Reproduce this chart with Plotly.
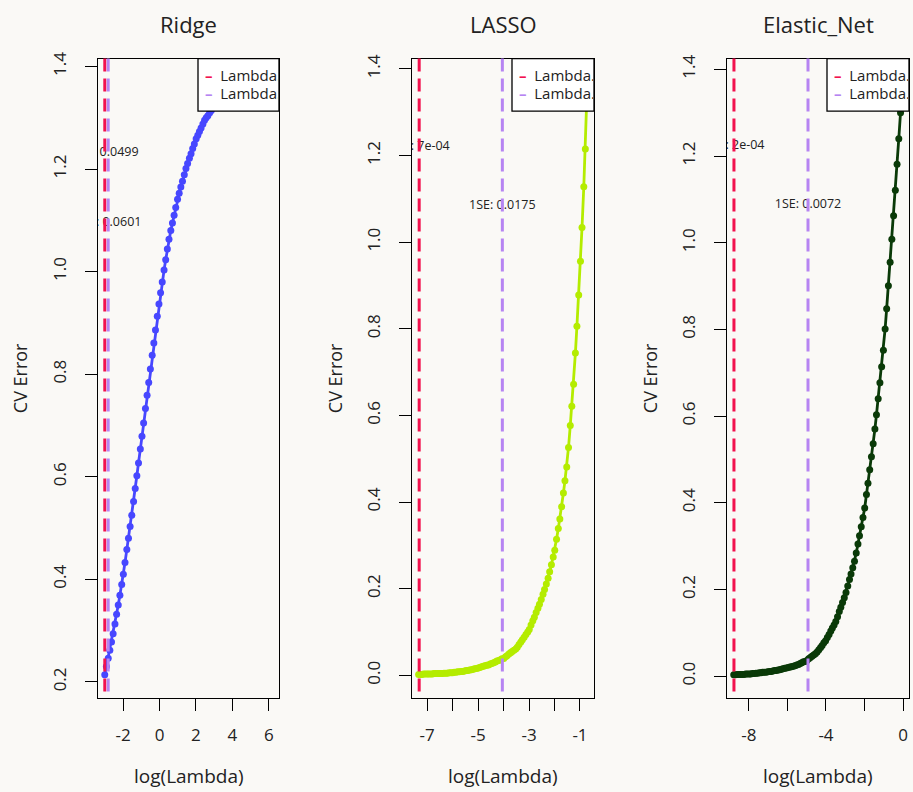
import math
import plotly.graph_objects as go

# ---------------- data ----------------
models = ["Ridge", "LASSO", "Elastic_Net"]

ridge_loglambda = [-3.00, -2.91, -2.81, -2.72, -2.63, -2.54, -2.44, -2.35, -2.26, -2.17,
                   -2.07, -1.98, -1.89, -1.79, -1.70, -1.61, -1.52, -1.42, -1.33, -1.24,
                   -1.15, -1.05, -0.96, -0.87, -0.77, -0.68, -0.59, -0.50, -0.40, -0.31,
                   -0.22, -0.12, -0.03, 0.06, 0.15, 0.25, 0.34, 0.43, 0.52, 0.62,
                   0.71, 0.80, 0.89, 0.99, 1.08, 1.17, 1.26, 1.36, 1.45, 1.54,
                   1.64, 1.73, 1.82, 1.91, 2.01, 2.10, 2.19, 2.28, 2.38, 2.47,
                   2.56, 2.65, 2.75, 2.84, 2.93, 3.03, 3.12, 3.21, 3.30, 3.40,
                   3.49, 3.58, 3.67, 3.77, 3.86, 3.95, 4.04, 4.14, 4.23, 4.32,
                   4.42, 4.51, 4.60, 4.69, 4.79, 4.88, 4.97, 5.06, 5.16, 5.25,
                   5.34, 5.43, 5.53, 5.62, 5.71, 5.80, 5.90, 5.99, 6.08, 6.18]
ridge_cv = [0.214, 0.230, 0.246, 0.262, 0.278, 0.294, 0.313, 0.332, 0.350, 0.369,
            0.390, 0.410, 0.433, 0.458, 0.480, 0.503, 0.525, 0.552, 0.577, 0.602,
            0.627, 0.654, 0.679, 0.705, 0.733, 0.759, 0.784, 0.810, 0.837, 0.861,
            0.886, 0.913, 0.937, 0.959, 0.980, 1.003, 1.023, 1.044, 1.063, 1.080,
            1.095, 1.110, 1.125, 1.141, 1.153, 1.165, 1.176, 1.189, 1.201, 1.211,
            1.221, 1.230, 1.240, 1.249, 1.259, 1.266, 1.273, 1.280, 1.288, 1.295,
            1.300, 1.304, 1.310, 1.314, 1.319, 1.323, 1.326, 1.330, 1.333, 1.337,
            1.340, 1.342, 1.344, 1.346, 1.348, 1.350, 1.352, 1.353, 1.354, 1.356,
            1.357, 1.358, 1.359, 1.360, 1.361, 1.362, 1.363, 1.363, 1.364, 1.364,
            1.365, 1.365, 1.366, 1.366, 1.367, 1.367, 1.368, 1.368, 1.369, 1.369]

lasso_loglambda = [-7.33, -7.26, -7.20, -7.13, -7.06, -6.99, -6.93, -6.86, -6.79, -6.73,
                   -6.66, -6.59, -6.53, -6.46, -6.40, -6.33, -6.26, -6.20, -6.13, -6.06,
                   -6.00, -5.93, -5.86, -5.80, -5.73, -5.66, -5.60, -5.53, -5.46, -5.40,
                   -5.33, -5.26, -5.19, -5.13, -5.06, -4.99, -4.93, -4.86, -4.79, -4.73,
                   -4.66, -4.59, -4.52, -4.46, -4.39, -4.32, -4.26, -4.19, -4.12, -4.06,
                   -3.99, -3.92, -3.86, -3.79, -3.72, -3.66, -3.59, -3.52, -3.46, -3.39,
                   -3.32, -3.26, -3.19, -3.12, -3.05, -2.99, -2.92, -2.85, -2.79, -2.72,
                   -2.65, -2.59, -2.52, -2.45, -2.39, -2.32, -2.25, -2.19, -2.12, -2.05,
                   -1.99, -1.92, -1.85, -1.79, -1.72, -1.65, -1.59, -1.52, -1.45, -1.38,
                   -1.32, -1.25, -1.18, -1.12, -1.05, -0.98, -0.92, -0.85, -0.79, -0.72]
lasso_cv = [0.002, 0.002, 0.002, 0.003, 0.003, 0.003, 0.003, 0.003, 0.003, 0.004,
            0.004, 0.004, 0.004, 0.004, 0.004, 0.005, 0.005, 0.005, 0.006, 0.006,
            0.006, 0.007, 0.007, 0.008, 0.008, 0.009, 0.009, 0.010, 0.011, 0.011,
            0.012, 0.013, 0.014, 0.015, 0.016, 0.017, 0.018, 0.020, 0.021, 0.022,
            0.023, 0.024, 0.026, 0.027, 0.029, 0.031, 0.033, 0.034, 0.036, 0.038,
            0.039, 0.043, 0.045, 0.049, 0.052, 0.055, 0.058, 0.061, 0.065, 0.071,
            0.077, 0.082, 0.088, 0.094, 0.100, 0.106, 0.116, 0.126, 0.134, 0.145,
            0.155, 0.164, 0.175, 0.187, 0.198, 0.211, 0.224, 0.239, 0.255, 0.273,
            0.289, 0.314, 0.339, 0.361, 0.389, 0.421, 0.449, 0.481, 0.526, 0.577,
            0.621, 0.672, 0.744, 0.806, 0.878, 0.956, 1.034, 1.128, 1.215, 1.355]

enet_loglambda = [-8.79, -8.70, -8.61, -8.52, -8.44, -8.35, -8.26, -8.17, -8.08, -7.99,
                  -7.91, -7.82, -7.73, -7.64, -7.55, -7.46, -7.38, -7.29, -7.20, -7.11,
                  -7.02, -6.93, -6.85, -6.76, -6.67, -6.58, -6.49, -6.40, -6.32, -6.23,
                  -6.14, -6.05, -5.96, -5.87, -5.79, -5.70, -5.61, -5.52, -5.43, -5.34,
                  -5.26, -5.17, -5.08, -4.99, -4.90, -4.81, -4.73, -4.64, -4.55, -4.46,
                  -4.37, -4.28, -4.20, -4.11, -4.02, -3.93, -3.84, -3.75, -3.67, -3.58,
                  -3.49, -3.40, -3.31, -3.23, -3.14, -3.05, -2.96, -2.87, -2.78, -2.70,
                  -2.61, -2.52, -2.43, -2.34, -2.26, -2.17, -2.08, -1.99, -1.90, -1.82,
                  -1.73, -1.64, -1.55, -1.46, -1.38, -1.29, -1.20, -1.11, -1.02, -0.93,
                  -0.85, -0.76, -0.67, -0.58, -0.49, -0.40, -0.31, -0.22, -0.13, -0.04]
enet_cv = [0.003, 0.003, 0.004, 0.004, 0.004, 0.004, 0.004, 0.005, 0.005, 0.005,
           0.005, 0.006, 0.006, 0.007, 0.007, 0.008, 0.008, 0.009, 0.009, 0.009,
           0.010, 0.011, 0.011, 0.012, 0.013, 0.013, 0.014, 0.015, 0.016, 0.017,
           0.018, 0.019, 0.020, 0.021, 0.022, 0.023, 0.024, 0.026, 0.027, 0.029,
           0.031, 0.033, 0.034, 0.036, 0.040, 0.043, 0.046, 0.049, 0.052, 0.056,
           0.061, 0.066, 0.071, 0.077, 0.082, 0.089, 0.096, 0.104, 0.111, 0.118,
           0.126, 0.137, 0.149, 0.159, 0.170, 0.181, 0.193, 0.208, 0.223, 0.236,
           0.250, 0.265, 0.284, 0.305, 0.324, 0.345, 0.366, 0.388, 0.419, 0.445,
           0.476, 0.506, 0.536, 0.570, 0.603, 0.640, 0.677, 0.714, 0.752, 0.801,
           0.848, 0.901, 0.955, 1.008, 1.062, 1.121, 1.181, 1.240, 1.300, 1.360]

lambda_min = [0.0499, 0.00067, 0.000154]
lambda_1se = [0.0601, 0.0175, 0.0072]
min_labels = ["Min: 0.0499", "Min: 7e-04", "Min: 2e-04"]
se_labels = ["1SE: 0.0601", "1SE: 0.0175", "1SE: 0.0072"]
legend_labels = ["Lambda.min", "Lambda.1se"]

x_tickvals = [[-2, 0, 2, 4, 6], [-7, -6, -5, -4, -3, -2, -1], [-8, -6, -4, -2, 0]]
x_ticktext = [["-2", "0", "2", "4", "6"], ["-7", "", "-5", "", "-3", "", "-1"], ["-8", "", "-4", "", "0"]]
y_tickvals = [[0.2, 0.4, 0.6, 0.8, 1.0, 1.2, 1.4],
              [0.0, 0.2, 0.4, 0.6, 0.8, 1.0, 1.2, 1.4],
              [0.0, 0.2, 0.4, 0.6, 0.8, 1.0, 1.2, 1.4]]

# ---------------- style / layout ----------------
W, H = 913, 792
BG = "#FAF9F6"
FONT = "Open Sans, Lato, sans-serif"
TXT = "#222222"
curve_colors = ["#4747FF", "#B4EC00", "#0A3A08"]
RED = "#F2124E"
PURPLE = "#B684F2"

box_px = [(98, 279), (412, 594), (727, 909)]   # left/right pixel edges of each panel
top_px, bottom_px = 52, 697
legend_left_px = [198, 512, 827]
legend_bottom_px = 105
x_ranges = [[-3.37, 6.55], [-7.59, -0.45], [-9.14, 0.31]]
y_ranges = [[0.169, 1.4155], [-0.052, 1.424], [-0.050, 1.425]]
ylab_px = [20, 335, 650]

series = [(ridge_loglambda, ridge_cv), (lasso_loglambda, lasso_cv), (enet_loglambda, enet_cv)]

fig = go.Figure()
ydom = [1 - bottom_px / H, 1 - top_px / H]

for i, name in enumerate(models):
    ax = "" if i == 0 else str(i + 1)
    xa, ya = "x" + ax, "y" + ax
    xs, ys = series[i]
    fig.add_trace(go.Scatter(
        x=xs, y=ys, mode="lines+markers", xaxis=xa, yaxis=ya,
        line=dict(color=curve_colors[i], width=2.8),
        marker=dict(color=curve_colors[i], size=7),
        showlegend=False, cliponaxis=True, hoverinfo="skip"))

    cvmax = max(ys)
    lmin, l1se = math.log(lambda_min[i]), math.log(lambda_1se[i])
    for xv, col in ((lmin, RED), (l1se, PURPLE)):
        fig.add_shape(type="line", xref=xa, yref=ya + " domain", x0=xv, x1=xv, y0=1, y1=0,
                      line=dict(color=col, width=3, dash="13px,7px"), layer="above")
    fig.add_trace(go.Scatter(
        x=[lmin, l1se], y=[cvmax * 0.9, cvmax * 0.8], mode="text",
        text=[min_labels[i], se_labels[i]], textposition="middle center",
        textfont=dict(family=FONT, size=12.5, color=TXT),
        xaxis=xa, yaxis=ya, showlegend=False, cliponaxis=True, hoverinfo="skip"))

    l, r = box_px[i]
    axis_common = dict(showline=True, mirror=True, linecolor="black", linewidth=1.3,
                       ticks="outside", ticklen=12, tickwidth=1.3, tickcolor="black",
                       showgrid=False, zeroline=False,
                       tickfont=dict(family=FONT, size=17, color=TXT))
    fig.update_layout(**{
        ("xaxis" + ax): dict(domain=[l / W, r / W], range=x_ranges[i], anchor=ya,
                             tickvals=x_tickvals[i], ticktext=x_ticktext[i],
                             ticklabelstandoff=10, **axis_common),
        ("yaxis" + ax): dict(domain=ydom, range=y_ranges[i], anchor=xa,
                             tickvals=y_tickvals[i], tickformat=".1f", tickangle=-90,
                             ticklabelstandoff=12, **axis_common),
    })

    cx = (l + r) / 2 / W
    fig.add_annotation(text=name, x=cx, y=1 - 17 / H, xref="paper", yref="paper",
                       showarrow=False, font=dict(family=FONT, size=22, color=TXT),
                       xanchor="center", yanchor="middle")
    fig.add_annotation(text="log(Lambda)", x=cx, y=1 - 776 / H, xref="paper", yref="paper",
                       showarrow=False, font=dict(family=FONT, size=19, color=TXT),
                       xanchor="center", yanchor="middle")
    fig.add_annotation(text="CV Error", x=ylab_px[i] / W, y=(ydom[0] + ydom[1]) / 2,
                       xref="paper", yref="paper", textangle=-90,
                       showarrow=False, font=dict(family=FONT, size=18, color=TXT),
                       xanchor="center", yanchor="middle")
    # legend box, clipped at the plot's right edge (R clips its legend to the plot region)
    fig.add_shape(type="rect", xref="paper", yref="paper",
                  x0=legend_left_px[i] / W, x1=r / W,
                  y0=1 - legend_bottom_px / H, y1=1 - top_px / H,
                  fillcolor="white", line=dict(color="black", width=1.3), layer="above")
    lw = r - legend_left_px[i]
    for j, (lab, col) in enumerate(zip(legend_labels, (RED, PURPLE))):
        fig.add_annotation(
            text="<span style='color:%s'><b>–</b></span>  %s" % (col, lab),
            x=r / W, y=1 - (68 + 18 * j) / H, xref="paper", yref="paper",
            showarrow=False, xanchor="right", yanchor="middle", align="left",
            width=lw - 8, height=17, borderpad=0,
            font=dict(family=FONT, size=15, color=TXT))

fig.update_layout(width=W, height=H, margin=dict(l=0, r=0, t=0, b=0),
                  paper_bgcolor=BG, plot_bgcolor=BG, showlegend=False)

fig.write_html("out.html", config={"displayModeBar": False},
               post_script="document.body.style.margin='0';document.body.style.background='%s';" % BG)
